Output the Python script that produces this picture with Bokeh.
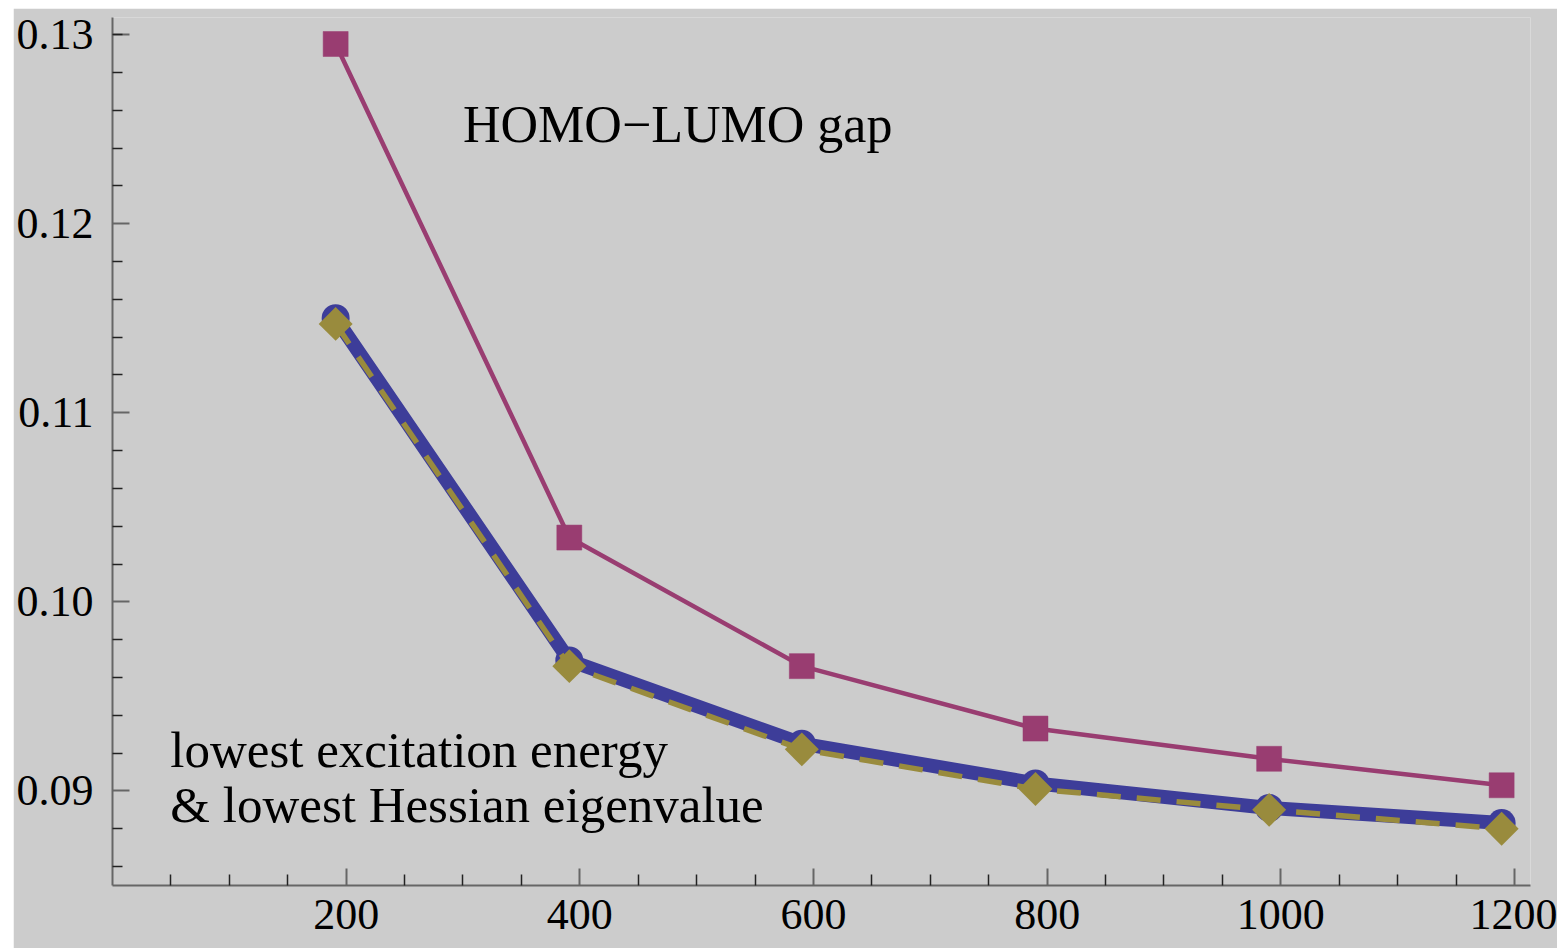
from bokeh.plotting import figure
from bokeh.models import FixedTicker, Label, Range1d, ColumnDataSource
from bokeh.embed import file_html
from bokeh.resources import INLINE
import math

# ---- data ----
n_points = [191, 391, 590, 790, 990, 1189]
homo_lumo_gap = [0.1295, 0.1034, 0.0966, 0.0933, 0.0917, 0.0903]
lowest_excitation = [0.1150, 0.0969, 0.0925, 0.0904, 0.0891, 0.0883]
lowest_hessian = [0.1147, 0.0966, 0.0922, 0.0901, 0.0890, 0.0880]

x_major_ticks = [200, 400, 600, 800, 1000, 1200]
x_major_labels = ["200", "400", "600", "800", "1000", "1200"]
x_minor_ticks = [50, 100, 150, 250, 300, 350, 450, 500, 550, 650, 700, 750,
                 850, 900, 950, 1050, 1100, 1150]
y_major_ticks = [0.09, 0.10, 0.11, 0.12, 0.13]
y_major_labels = ["0.09", "0.10", "0.11", "0.12", "0.13"]
y_minor_ticks = [0.086, 0.088, 0.092, 0.094, 0.096, 0.098, 0.102, 0.104, 0.106,
                 0.108, 0.112, 0.114, 0.116, 0.118, 0.122, 0.124, 0.126, 0.128, 0.130]

label_gap = "HOMO\u2212LUMO gap"
label_low1 = "lowest excitation energy"
label_low2 = "& lowest Hessian eigenvalue"

C_BLUE = "#3d3d99"
C_MAG = "#993d71"
C_OLIVE = "#998b3d"
BG = "#cccccc"
FONT = "Liberation Serif"

src = ColumnDataSource(dict(x=n_points, gap=homo_lumo_gap,
                            exc=lowest_excitation, hes=lowest_hessian))

p = figure(width=1544, height=940,
           x_range=Range1d(0, 1213.7), y_range=Range1d(0.085, 0.130902),
           output_backend="svg", toolbar_location=None,
           min_border_left=97, min_border_right=27,
           min_border_top=9, min_border_bottom=63,
           background_fill_color=BG, border_fill_color=BG,
           outline_line_color=None)
p.margin = (8, 3, 0, 13)
p.grid.visible = False

# axes
p.xaxis.ticker = FixedTicker(ticks=x_major_ticks, minor_ticks=x_minor_ticks)
p.xaxis.major_label_overrides = {t: s for t, s in zip(x_major_ticks, x_major_labels)}
p.yaxis.ticker = FixedTicker(ticks=y_major_ticks, minor_ticks=y_minor_ticks)
p.yaxis.major_label_overrides = {t: s for t, s in zip(y_major_ticks, y_major_labels)}
for ax in (p.xaxis, p.yaxis):
    ax.axis_line_color = "#666666"
    ax.axis_line_width = 2
    ax.major_tick_line_color = "#666666"
    ax.major_tick_line_width = 2
    ax.minor_tick_line_color = "#222222"
    ax.minor_tick_line_width = 1.5
    ax.major_tick_out = 0
    ax.minor_tick_out = 0
    ax.major_label_text_font = FONT
    ax.major_label_text_font_size = "44px"
    ax.major_label_text_color = "black"
p.xaxis.major_tick_in = 17
p.xaxis.minor_tick_in = 11
p.yaxis.major_tick_in = 17
p.yaxis.minor_tick_in = 10
p.xaxis.major_label_standoff = 14
p.yaxis.major_label_standoff = 19

# HOMO-LUMO gap
p.line("x", "gap", source=src, line_color=C_MAG, line_width=4.5)
p.scatter("x", "gap", source=src, marker="square", size=25,
          fill_color=C_MAG, line_color=C_MAG, line_width=0.5)

# lowest excitation energy
p.line("x", "exc", source=src, line_color=C_BLUE, line_width=14)
p.scatter("x", "exc", source=src, marker="circle", size=28,
          fill_color=C_BLUE, line_color=None)

# lowest Hessian eigenvalue
p.line("x", "hes", source=src, line_color=C_OLIVE, line_width=5.5,
       line_dash="24 16")
p.scatter("x", "hes", source=src, marker="square", size=24, angle=math.pi / 4,
          fill_color=C_OLIVE, line_color=None)

# text annotations
p.add_layout(Label(x=300, y=0.12525, text=label_gap, text_font=FONT,
                   text_font_size="52px", text_color="black",
                   text_baseline="alphabetic"))
p.add_layout(Label(x=49.5, y=0.09217, text=label_low1, text_font=FONT,
                   text_font_size="51px", text_color="black",
                   text_baseline="alphabetic"))
p.add_layout(Label(x=49.5, y=0.08925, text=label_low2, text_font=FONT,
                   text_font_size="51px", text_color="black",
                   text_baseline="alphabetic"))

open("out.html", "w").write(file_html(p, INLINE))
